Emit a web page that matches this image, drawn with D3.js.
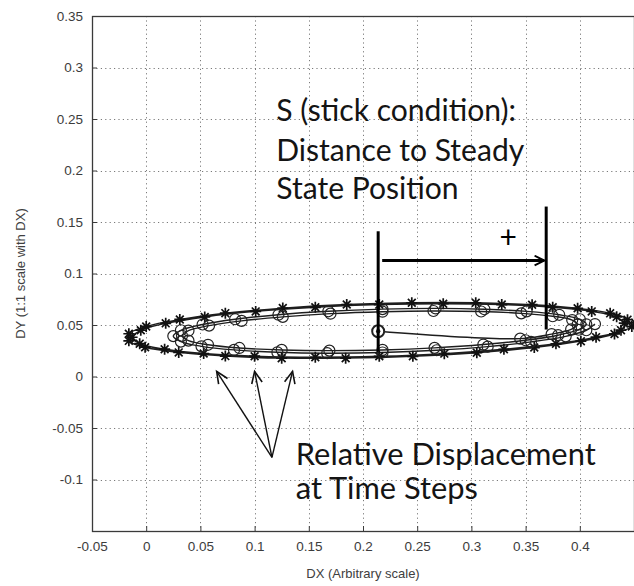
<!DOCTYPE html>
<html>
<head>
<meta charset="utf-8">
<script src="https://cdn.jsdelivr.net/npm/d3@7"></script>
<style>
  html, body { margin: 0; padding: 0; background: #fff; }
  svg { display: block; }
</style>
</head>
<body>
<svg id="chart" width="634" height="586"></svg>
<script>
// ---- axis ticks ----
const xTicks = [-0.05, 0, 0.05, 0.1, 0.15, 0.2, 0.25, 0.3, 0.35, 0.4];
const yTicks = [-0.1, -0.05, 0, 0.05, 0.1, 0.15, 0.2, 0.25, 0.3, 0.35];
const xTickLabels = ["-0.05", "0", "0.05", "0.1", "0.15", "0.2", "0.25", "0.3", "0.35", "0.4"];
const yTickLabels = ["-0.1", "-0.05", "0", "0.05", "0.1", "0.15", "0.2", "0.25", "0.3", "0.35"];
const xGrid = [0, 0.05, 0.1, 0.15, 0.2, 0.25, 0.3, 0.35, 0.4];
const yGrid = [-0.1, -0.05, 0, 0.05, 0.1, 0.15, 0.2, 0.25, 0.3];

// ---- relative displacement during the transient (circle markers) ----
const transientDX = [0.214, 0.345, 0.374, 0.392, 0.398, 0.393, 0.375, 0.346, 0.309, 0.265, 0.218,
  0.170, 0.126, 0.088, 0.058, 0.039, 0.033, 0.039, 0.057, 0.086, 0.125, 0.169, 0.218,
  0.266, 0.311, 0.350, 0.380, 0.399, 0.406, 0.400, 0.381, 0.351, 0.312, 0.267, 0.218,
  0.168, 0.122, 0.082, 0.052, 0.032, 0.025, 0.032, 0.051, 0.081, 0.121, 0.167, 0.218,
  0.268, 0.315, 0.355, 0.387, 0.406, 0.414];
const transientDY = [0.044, 0.0368, 0.0411, 0.0458, 0.0504, 0.0548, 0.0585, 0.0613, 0.0631, 0.0636, 0.0629,
  0.0610, 0.0579, 0.0540, 0.0494, 0.0445, 0.0395, 0.0348, 0.0308, 0.0277, 0.0258, 0.0251, 0.0258,
  0.0278, 0.0310, 0.0352, 0.0401, 0.0454, 0.0507, 0.0556, 0.0599, 0.0632, 0.0653, 0.0661, 0.0654,
  0.0633, 0.0600, 0.0556, 0.0505, 0.0449, 0.0392, 0.0339, 0.0293, 0.0258, 0.0235, 0.0226, 0.0233,
  0.0255, 0.0290, 0.0336, 0.0390, 0.0449, 0.0509];

// ---- relative displacement on the outer cycle (star markers) ----
const cycleDX = [0.441, 0.434, 0.411, 0.375, 0.328, 0.274, 0.215, 0.156, 0.101, 0.054, 0.018, -0.005,
  -0.013, -0.006, 0.017, 0.053, 0.100, 0.156, 0.215, 0.275, 0.330, 0.378, 0.415, 0.438,
  0.444, 0.428, 0.398, 0.356, 0.304, 0.245, 0.185, 0.126, 0.073, 0.031, 0.000, -0.016,
  -0.016, -0.001, 0.030, 0.073, 0.125, 0.184, 0.246, 0.305, 0.358, 0.401, 0.432, 0.448, 0.451];
const cycleDY = [0.0518, 0.0579, 0.0632, 0.0672, 0.0698, 0.0707, 0.0698, 0.0672, 0.0632, 0.0578, 0.0516, 0.0449,
  0.0381, 0.0319, 0.0265, 0.0223, 0.0197, 0.0187, 0.0196, 0.0222, 0.0264, 0.0318, 0.0382, 0.0450,
  0.0552, 0.0613, 0.0662, 0.0697, 0.0716, 0.0716, 0.0699, 0.0664, 0.0615, 0.0554, 0.0486, 0.0415,
  0.0346, 0.0284, 0.0234, 0.0198, 0.0178, 0.0178, 0.0196, 0.0231, 0.0281, 0.0343, 0.0413, 0.0485, 0.0521];

// ---- annotations (data units) ----
const steadyStateDX = 0.369;
const stickBarLeftDY = [0.024, 0.141];
const stickBarRightDY = [0.0456, 0.165];
const stickArrowDY = 0.1126;
const plusPos = [0.334, 0.136];
const stickText = ["S  (stick condition):", "Distance to Steady", "State Position"];
const stickTextPos = [0.120, [0.2476, 0.2097, 0.1728]];
const stepText = ["Relative Displacement", "at Time Steps"];
const stepTextPos = [0.138, [-0.0855, -0.1185]];
const pointerTail = [0.116, -0.0786];
const pointerHeadsDX = [0.065, 0.100, 0.135];
const pointerHeadDY = 0.005;

const W = 634, H = 586;
const svg = d3.select("#chart");

const x = d3.scaleLinear().domain([-0.05, 0.45]).range([92, 634]);
const y = d3.scaleLinear().domain([-0.15, 0.35]).range([531, 16]);

const [x0, x1] = x.range();
const [y0, y1] = y.range();

svg.append("rect").attr("width", W).attr("height", H).attr("fill", "#fff");

svg.append("defs").append("clipPath").attr("id", "plotClip")
  .append("rect").attr("x", x0).attr("y", y1).attr("width", x1 - x0).attr("height", y0 - y1);

// grid
const grid = svg.append("g").attr("stroke", "#7a7a7a").attr("stroke-width", 1)
  .attr("stroke-dasharray", "1.2,3.2");
grid.selectAll("line.gx").data(xGrid).join("line")
  .attr("x1", d => Math.round(x(d)) + 0.5).attr("x2", d => Math.round(x(d)) + 0.5)
  .attr("y1", y1).attr("y2", y0);
grid.selectAll("line.gy").data(yGrid).join("line")
  .attr("y1", d => Math.round(y(d)) + 0.5).attr("y2", d => Math.round(y(d)) + 0.5)
  .attr("x1", x0).attr("x2", x1);

// axes (ticks drawn inward)
const tickFont = "'Liberation Sans', Arial, sans-serif";
const xAxis = d3.axisBottom(x).tickValues(xTicks).tickSize(-5).tickPadding(10)
  .tickFormat((d, i) => xTickLabels[i]);
const yAxis = d3.axisLeft(y).tickValues(yTicks).tickSize(-5).tickPadding(9)
  .tickFormat((d, i) => yTickLabels[i]);

const gx = svg.append("g").attr("transform", `translate(0,${y0})`).call(xAxis);
const gy = svg.append("g").attr("transform", `translate(${x0},0)`).call(yAxis);
[gx, gy].forEach(g => {
  g.select(".domain").remove();
  g.selectAll(".tick line").attr("stroke", "#3a3a3a");
  g.selectAll(".tick text").attr("fill", "#3c3c3c")
    .style("font-family", tickFont).style("font-size", "13.5px");
});

// box
svg.append("rect").attr("x", x0 + 0.5).attr("y", y1 + 0.5)
  .attr("width", x1 - x0).attr("height", y0 - y1)
  .attr("fill", "none").attr("stroke", "#3a3a3a").attr("stroke-width", 1.3);

// axis titles
svg.append("text").attr("x", (x0 + 634) / 2).attr("y", 578).attr("text-anchor", "middle")
  .attr("fill", "#404040").style("font-family", tickFont).style("font-size", "13px")
  .text("DX (Arbitrary scale)");
svg.append("text").attr("transform", `translate(25,${(y0 + y1) / 2}) rotate(-90)`)
  .attr("text-anchor", "middle")
  .attr("fill", "#404040").style("font-family", tickFont).style("font-size", "13px")
  .text("DY (1:1 scale with DX)");

// data
const plot = svg.append("g").attr("clip-path", "url(#plotClip)");
const line = d3.line().x(d => x(d[0])).y(d => y(d[1])).curve(d3.curveCatmullRom.alpha(0.5));

const transient = transientDX.map((d, i) => [d, transientDY[i]]);
const cycle = cycleDX.map((d, i) => [d, cycleDY[i]]);

plot.append("path").datum(cycle).attr("d", line)
  .attr("fill", "none").attr("stroke", "#1e1e1e").attr("stroke-width", 1.4);
plot.append("path").datum(transient).attr("d", line)
  .attr("fill", "none").attr("stroke", "#1e1e1e").attr("stroke-width", 1.4);

// star (asterisk) markers
const starR = 5.5;
const starPath = (() => {
  let p = "";
  [0, 45, 90, 135].forEach(a => {
    const r = a * Math.PI / 180;
    const dx = starR * Math.cos(r), dy = starR * Math.sin(r);
    p += `M${-dx},${-dy}L${dx},${dy}`;
  });
  return p;
})();
plot.append("g").selectAll("path").data(cycle).join("path")
  .attr("transform", d => `translate(${x(d[0])},${y(d[1])})`)
  .attr("d", starPath).attr("stroke", "#111").attr("stroke-width", 1.7).attr("fill", "none");

// circle markers
plot.append("g").selectAll("circle").data(transient).join("circle")
  .attr("cx", d => x(d[0])).attr("cy", d => y(d[1])).attr("r", 5.5)
  .attr("fill", "none").attr("stroke", "#222").attr("stroke-width", 1.2);

// starting point
plot.append("circle").attr("cx", x(transient[0][0])).attr("cy", y(transient[0][1]))
  .attr("r", 6).attr("fill", "#fff").attr("stroke", "#222").attr("stroke-width", 2);
plot.append("circle").attr("cx", x(transient[0][0])).attr("cy", y(transient[0][1]))
  .attr("r", 2.2).attr("fill", "#222");

// stick-condition bracket
const ann = svg.append("g");
const defs = svg.select("defs");
defs.append("marker").attr("id", "arrowHead").attr("viewBox", "0 0 10 10")
  .attr("refX", 9).attr("refY", 5).attr("markerWidth", 4).attr("markerHeight", 4)
  .attr("orient", "auto").attr("markerUnits", "strokeWidth")
  .append("path").attr("d", "M1,1 L9,5 L1,9").attr("fill", "none").attr("stroke", "#000").attr("stroke-width", 1.6);

ann.append("line").attr("x1", x(transient[0][0])).attr("x2", x(transient[0][0]))
  .attr("y1", y(stickBarLeftDY[0])).attr("y2", y(stickBarLeftDY[1]))
  .attr("stroke", "#000").attr("stroke-width", 3);
ann.append("line").attr("x1", x(steadyStateDX)).attr("x2", x(steadyStateDX))
  .attr("y1", y(stickBarRightDY[0])).attr("y2", y(stickBarRightDY[1]))
  .attr("stroke", "#000").attr("stroke-width", 3);
ann.append("line").attr("x1", x(transient[0][0]) + 4).attr("x2", x(steadyStateDX) - 2)
  .attr("y1", y(stickArrowDY)).attr("y2", y(stickArrowDY))
  .attr("stroke", "#000").attr("stroke-width", 3).attr("marker-end", "url(#arrowHead)");
ann.append("text").attr("x", x(plusPos[0])).attr("y", y(plusPos[1])).attr("text-anchor", "middle")
  .attr("dominant-baseline", "central")
  .style("font-family", "Lato, sans-serif").style("font-size", "30px").attr("fill", "#000").text("+");

// text blocks sized by measured width
const annFont = "Lato, 'Open Sans', sans-serif";
function textBlock(lines, pos, refLine, refWidth) {
  const g = ann.append("g");
  const t = g.selectAll("text").data(lines).join("text")
    .attr("x", x(pos[0])).attr("y", (d, i) => y(pos[1][i]))
    .attr("fill", "#141414").style("font-family", annFont).style("font-size", "20px")
    .text(d => d);
  const w = t.nodes()[refLine].getComputedTextLength();
  t.style("font-size", (20 * refWidth / w).toFixed(2) + "px");
}
textBlock(stickText, stickTextPos, 1, 248);
textBlock(stepText, stepTextPos, 0, 300);

// pointers to the time-step markers
const tx = x(pointerTail[0]), ty = y(pointerTail[1]);
pointerHeadsDX.forEach(hx => {
  const px = x(hx), py = y(pointerHeadDY);
  ann.append("line").attr("x1", tx).attr("y1", ty).attr("x2", px).attr("y2", py)
    .attr("stroke", "#111").attr("stroke-width", 1.4);
  const ang = Math.atan2(py - ty, px - tx);
  const L = 13, spread = 0.42;
  const a1 = ang + Math.PI - spread, a2 = ang + Math.PI + spread;
  ann.append("path")
    .attr("d", `M${px + L * Math.cos(a1)},${py + L * Math.sin(a1)}L${px},${py}L${px + L * Math.cos(a2)},${py + L * Math.sin(a2)}`)
    .attr("fill", "none").attr("stroke", "#111").attr("stroke-width", 1.6);
});
</script>
</body>
</html>
